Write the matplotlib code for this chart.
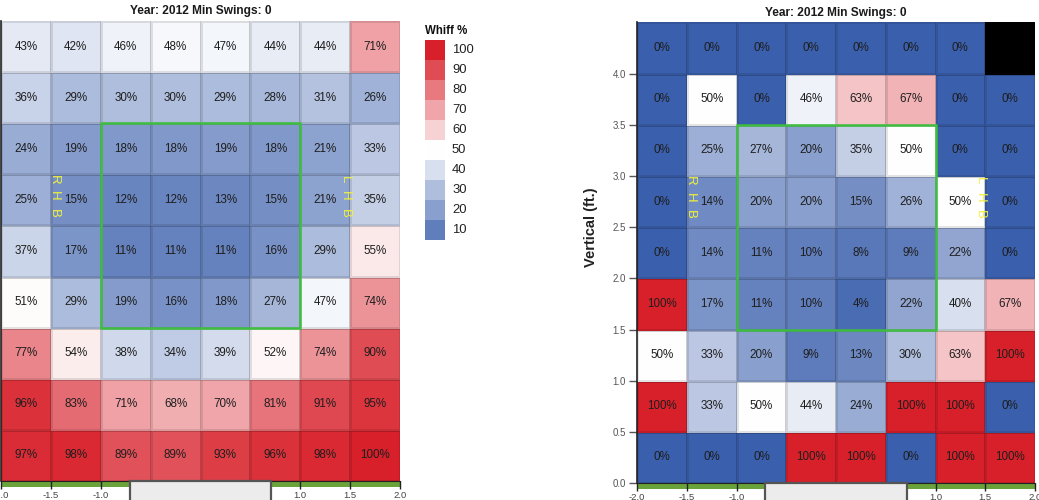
import numpy as np
import matplotlib
matplotlib.use("Agg")
import matplotlib.pyplot as plt
from matplotlib.colors import LinearSegmentedColormap
from matplotlib.patches import Rectangle

plt.rcParams['font.family'] = ['Liberation Sans', 'DejaVu Sans']

# ---------------- data ----------------
x_edges = [-2.0, -1.5, -1.0, -0.5, 0.0, 0.5, 1.0, 1.5, 2.0]
y_edges = [0.0, 0.5, 1.0, 1.5, 2.0, 2.5, 3.0, 3.5, 4.0, 4.5]

# rows listed top (4.0-4.5 ft) to bottom (0.0-0.5 ft)
left_whiff = [
    [43, 42, 46, 48, 47, 44, 44, 71],
    [36, 29, 30, 30, 29, 28, 31, 26],
    [24, 19, 18, 18, 19, 18, 21, 33],
    [25, 15, 12, 12, 13, 15, 21, 35],
    [37, 17, 11, 11, 11, 16, 29, 55],
    [51, 29, 19, 16, 18, 27, 47, 74],
    [77, 54, 38, 34, 39, 52, 74, 90],
    [96, 83, 71, 68, 70, 81, 91, 95],
    [97, 98, 89, 89, 93, 96, 98, 100],
]
right_whiff = [
    [0, 0, 0, 0, 0, 0, 0, np.nan],
    [0, 50, 0, 46, 63, 67, 0, 0],
    [0, 25, 27, 20, 35, 50, 0, 0],
    [0, 14, 20, 20, 15, 26, 50, 0],
    [0, 14, 11, 10, 8, 9, 22, 0],
    [100, 17, 11, 10, 4, 22, 40, 67],
    [50, 33, 20, 9, 13, 30, 63, 100],
    [100, 33, 50, 44, 24, 100, 100, 0],
    [0, 0, 0, 100, 100, 0, 100, 100],
]
legend_values = [100, 90, 80, 70, 60, 50, 40, 30, 20, 10]
x_ticks = [-2.0, -1.5, -1.0, 1.0, 1.5, 2.0]
y_ticks = [0.0, 0.5, 1.0, 1.5, 2.0, 2.5, 3.0, 3.5, 4.0]
title_text = "Year: 2012 Min Swings: 0"
zone_x = (-1.0, 1.0)
zone_y = (1.5, 3.5)
plate_half = 0.71

# ---------------- style ----------------
cmap = LinearSegmentedColormap.from_list(
    "whiff", [(0.0, "#3a5fac"), (0.5, "#ffffff"), (1.0, "#d8202a")])
cmap.set_bad("black")

W, H = 1039, 500
fig = plt.figure(figsize=(W / 100, H / 100), dpi=100)


def px_axes(x0, y0, x1, y1):
    return fig.add_axes([x0 / W, 1 - y1 / H, (x1 - x0) / W, (y1 - y0) / H])


def draw_heat(ax, data, show_y):
    arr = np.array(data, dtype=float)[::-1]
    masked = np.ma.masked_invalid(arr)
    ax.pcolormesh(x_edges, y_edges, masked, cmap=cmap, vmin=0, vmax=100,
                  edgecolors=(0, 0, 0, 0.1), linewidth=0.8)
    xc = (np.array(x_edges[:-1]) + np.array(x_edges[1:])) / 2
    yc = (np.array(y_edges[:-1]) + np.array(y_edges[1:])) / 2
    for i in range(arr.shape[0]):
        for j in range(arr.shape[1]):
            v = arr[i, j]
            if np.isnan(v):
                continue
            ax.text(xc[j], yc[i], f"{int(v)}%", ha="center", va="center",
                    fontsize=8.4, color="#1e1e1e")
    ax.set_xlim(x_edges[0], x_edges[-1])
    ax.set_ylim(y_edges[0], y_edges[-1])
    # strike zone
    ax.add_patch(Rectangle((zone_x[0], zone_y[0]), zone_x[1] - zone_x[0],
                           zone_y[1] - zone_y[0], fill=False,
                           edgecolor="#3fbf3f", lw=1.8, zorder=4))
    # batter side labels
    for (xpos, letters) in [(-1.47, "RHB"), (1.45, "LHB")]:
        for k, ch in enumerate(letters):
            ax.text(xpos, 2.95 - k * 0.165, ch, rotation=-90, ha="center",
                    va="center", fontsize=9.5, color="#f2f23a", zorder=5)
    # ground strip and plate
    trans = ax.get_xaxis_transform()
    ax.add_patch(Rectangle((x_edges[0], -0.012), x_edges[-1] - x_edges[0], 0.012,
                           transform=trans, clip_on=False, facecolor="#6aa33a",
                           edgecolor="none", zorder=1))
    ax.add_patch(Rectangle((-plate_half, -0.2), 2 * plate_half, 0.2,
                           transform=trans, clip_on=False, facecolor="#ececec",
                           edgecolor="#555555", lw=1.6, zorder=6))
    ax.set_xticks(x_ticks)
    ax.set_xticklabels([f"{t:.1f}" for t in x_ticks])
    ax.tick_params(axis="x", length=6, width=1, color="#222222",
                   labelsize=6.8, labelcolor="#444444", pad=1)
    for s in ["top", "right"]:
        ax.spines[s].set_visible(False)
    ax.spines["bottom"].set_color("#222222")
    ax.spines["left"].set_color("#222222")
    ax.spines["left"].set_linewidth(1.2)
    if show_y:
        ax.set_yticks(y_ticks)
        ax.set_yticklabels([f"{t:.1f}" for t in y_ticks])
        ax.tick_params(axis="y", length=6, width=1, color="#555555",
                       labelsize=7, labelcolor="#555555", pad=2)
        ax.set_ylabel("Vertical (ft.)", fontsize=10.5, fontweight="bold",
                      color="#222222")
        ax.yaxis.set_label_coords(-0.098, 0.555)
    else:
        ax.set_yticks([])
    ax.text(0.5, 1.021, title_text, transform=ax.transAxes, ha="center",
            va="center", fontsize=8.6, fontweight="bold", color="#1a1a1a")


ax1 = px_axes(1, 21, 400, 481)
draw_heat(ax1, left_whiff, show_y=False)

ax2 = px_axes(637, 22.5, 1035, 483)
draw_heat(ax2, right_whiff, show_y=True)

# ---------------- legend ----------------
lg = fig.add_axes([0, 0, 1, 1], facecolor="none")
lg.set_xlim(0, W)
lg.set_ylim(H, 0)
lg.axis("off")
lg.text(425, 31, "Whiff %", ha="left", va="center", fontsize=8.3,
        fontweight="bold", color="#111111")
for i, v in enumerate(legend_values):
    y0 = 40 + i * 20
    lg.add_patch(Rectangle((425, y0), 20, 20, facecolor=cmap(v / 100),
                           edgecolor="none"))
    lg.text(452, y0 + 10, f"{v}", ha="left", va="center", fontsize=9.4,
            color="#222222")

fig.savefig("out.png", dpi=100)
